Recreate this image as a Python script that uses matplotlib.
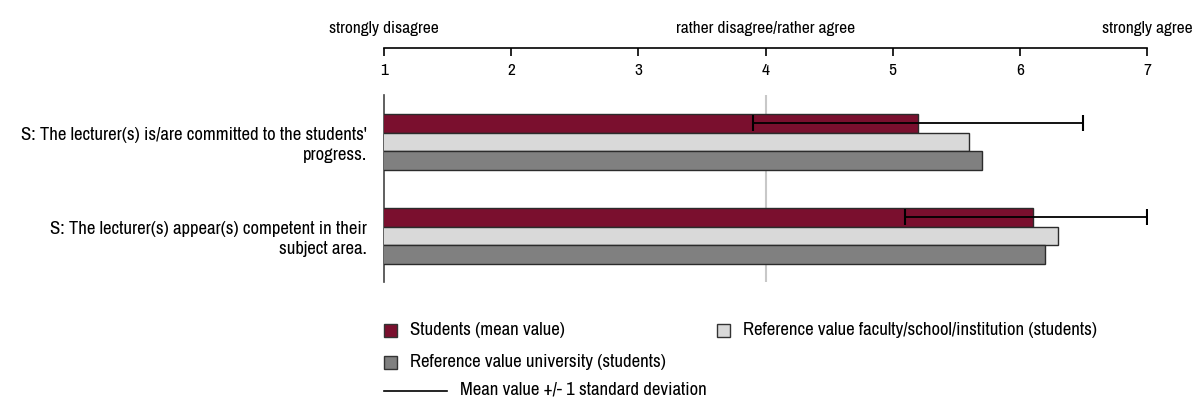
import numpy as np
import matplotlib
matplotlib.use("Agg")
import matplotlib.pyplot as plt
from matplotlib.patches import Rectangle
from matplotlib.lines import Line2D

plt.rcParams["font.family"] = ["Archivo Narrow", "DejaVu Sans"]

# =========================
# DATA
# =========================
questions = [
    "S: The lecturer(s) is/are committed to the students'\nprogress.",
    "S: The lecturer(s) appear(s) competent in their\nsubject area.",
]
students_mean = [5.2, 6.1]
students_sd = [1.3, 1.0]
ref_faculty = [5.6, 6.3]
ref_university = [5.7, 6.2]

scale_ticks = [1, 2, 3, 4, 5, 6, 7]
scale_labels = ["strongly disagree", "rather disagree/rather agree", "strongly agree"]
scale_label_pos = [1, 4, 7]

legend_labels = [
    "Students (mean value)",
    "Reference value faculty/school/institution (students)",
    "Reference value university (students)",
    "Mean value +/- 1 standard deviation",
]

MAROON = "#7a0f2e"
LIGHT = "#d9d9d9"
DARK = "#808080"
EDGE = "#2b2b2b"

W, H = 1194, 403
fig = plt.figure(figsize=(W / 100, H / 100), dpi=100)


def fx(px):
    return px / W


def fy(py):
    return 1 - py / H


# =========================
# BAR AXES
# =========================
ax = fig.add_axes([fx(384), fy(282), fx(1147) - fx(384), fy(95) - fy(282)])
y = np.arange(len(questions))
bh = 0.2
ax.barh(y - bh, students_mean, height=bh, color=MAROON, edgecolor=EDGE, lw=1, zorder=3)
ax.barh(y, ref_faculty, height=bh, color=LIGHT, edgecolor=EDGE, lw=1, zorder=3)
ax.barh(y + bh, ref_university, height=bh, color=DARK, edgecolor=EDGE, lw=1, zorder=3)

mean = np.array(students_mean)
sd = np.array(students_sd)
lo = np.maximum(mean - sd, 1)
hi = np.minimum(mean + sd, 7)
ax.errorbar(mean, y - bh, xerr=[mean - lo, hi - mean], fmt="none", ecolor="black",
            elinewidth=1.3, capsize=6, capthick=1.5, zorder=4)

ax.axvline(4, color="#c8c8c8", lw=1.5, zorder=1)
ax.set_xlim(1, 7)
ax.set_ylim(1.49, -0.5)
for s in ["top", "right", "bottom"]:
    ax.spines[s].set_visible(False)
ax.spines["left"].set_color("#444444")
ax.spines["left"].set_linewidth(1.2)
ax.set_xticks([])
ax.set_yticks(y)
ax.set_yticklabels(questions, fontsize=13.5, ha="right", linespacing=1.25)
ax.tick_params(axis="y", length=0, pad=12)

# =========================
# SCALE AXIS ON TOP
# =========================
sc = fig.add_axes([fx(384), fy(60), fx(1147) - fx(384), fy(48) - fy(60)])
sc.set_xlim(1, 7)
sc.set_ylim(0, 1)
for s in ["left", "right", "bottom"]:
    sc.spines[s].set_visible(False)
sc.spines["top"].set_linewidth(1.2)
sc.set_yticks([])
sc.set_xticks(scale_ticks)
sc.set_xticklabels([str(t) for t in scale_ticks], fontsize=12.5)
sc.tick_params(axis="x", top=True, bottom=False, direction="in", length=6, width=1.2,
               labelbottom=True, labeltop=False, pad=2)
sc.patch.set_visible(False)
for lab, pos in zip(scale_labels, scale_label_pos):
    sc.text(pos, (60 - 28) / 12, lab, fontsize=12.5, ha="center", va="center", clip_on=False)

# =========================
# LEGEND
# =========================
colors = [MAROON, LIGHT, DARK]
sq_pos = [(384, 330), (717, 330), (384, 362)]
for (px, py), c, lab in zip(sq_pos, colors, legend_labels[:3]):
    fig.patches.append(Rectangle((fx(px), fy(py + 6.5)), fx(13), 13 / H, transform=fig.transFigure,
                                 facecolor=c, edgecolor="#333333", lw=1))
    fig.text(fx(px + 26), fy(py), lab, fontsize=13.5, va="center", ha="left")

fig.lines.append(Line2D([fx(384), fx(447)], [fy(391), fy(391)], transform=fig.transFigure,
                        color="black", lw=1.2))
fig.text(fx(460), fy(390), legend_labels[3], fontsize=13.5, va="center", ha="left")

fig.savefig("out.png", dpi=100)
